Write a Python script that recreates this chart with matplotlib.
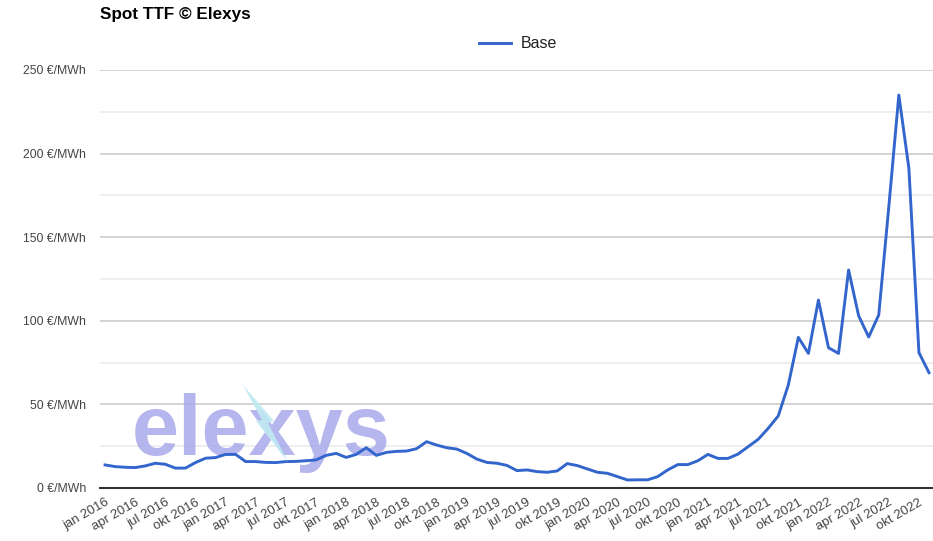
import matplotlib
matplotlib.use('Agg')
import matplotlib.pyplot as plt
from matplotlib.patches import Polygon
from matplotlib.transforms import IdentityTransform

plt.rcParams['font.family'] = ['Liberation Sans', 'DejaVu Sans']

# monthly spot TTF, jan 2016 .. nov 2022 (EUR/MWh)
base_2016 = [13.8, 12.8, 12.4, 12.2, 13.2, 14.8, 14.2, 11.9, 11.9, 15.2, 17.8, 18.2]
base_2017 = [20.1, 20.1, 15.8, 15.8, 15.3, 15.2, 15.8, 15.9, 16.3, 16.8, 19.5, 20.7]
base_2018 = [18.3, 20.1, 24.1, 19.5, 21.3, 21.9, 22.1, 23.5, 27.7, 25.7, 24.1, 23.3]
base_2019 = [20.7, 17.3, 15.3, 14.8, 13.5, 10.4, 10.8, 9.8, 9.4, 10.2, 14.6, 13.4]
base_2020 = [11.4, 9.4, 8.8, 6.8, 4.8, 4.9, 4.9, 6.8, 10.8, 14.0, 14.0, 16.3]
base_2021 = [20.1, 17.7, 17.7, 20.3, 24.7, 29.1, 35.7, 43.1, 61.6, 90.1, 80.5, 112.4]
base_2022 = [83.9, 80.5, 130.4, 103.0, 90.3, 103.5, 168.0, 235.0, 191.2, 81.0, 69.0]
base = base_2016 + base_2017 + base_2018 + base_2019 + base_2020 + base_2021 + base_2022

years = [2016, 2017, 2018, 2019, 2020, 2021, 2022]
tick_months = ['jan', 'apr', 'jul', 'okt']
tick_labels = ['{} {}'.format(m, y) for y in years for m in tick_months][:len(range(0, len(base), 3))]

y_ticks = [0, 50, 100, 150, 200, 250]
y_minor = [25, 75, 125, 175, 225]

W, H = 933, 541
fig = plt.figure(figsize=(W / 100, H / 100), dpi=100)
ax = fig.add_axes([100 / W, 53 / H, 833 / W, 418 / H])

x = list(range(len(base)))
ax.plot(x, base, color='#3366cc', lw=2.1, label='Base', zorder=3)

ax.set_xlim(-0.5, 82.4)
ax.set_ylim(0, 250)
for v in y_ticks[1:]:
    ax.axhline(v, color='#cccccc', lw=1.2, zorder=1)
for v in y_minor:
    ax.axhline(v, color='#ebebeb', lw=1.2, zorder=1)
ax.axhline(0, color='#333333', lw=1.5, zorder=4, clip_on=False)

ax.set_yticks(y_ticks)
ax.set_yticklabels(['{} €/MWh'.format(v) for v in y_ticks])
ax.set_xticks(list(range(0, len(base), 3)))
ax.set_xticklabels(tick_labels, rotation=30, ha='right', va='top',
                   rotation_mode='anchor')
ax.tick_params(axis='both', length=0, colors='#444444')
ax.tick_params(axis='y', pad=10, labelsize=8.8)
ax.tick_params(axis='x', pad=6, labelsize=9.5)
for s in ax.spines.values():
    s.set_visible(False)

# watermark logo
ax.text(0.038, 0.08, 'elexys', transform=ax.transAxes, fontsize=61,
        fontweight='bold', color='#a9a9ec', alpha=0.85, zorder=2,
        ha='left', va='baseline')
bolt = [(243, 385), (262, 420), (256, 421), (288, 462), (268, 423), (274, 421)]
bolt = [(px, H - py) for px, py in bolt]
fig.patches.append(Polygon(bolt, closed=True, transform=IdentityTransform(),
                           facecolor='#bfeaf2', edgecolor='none', alpha=0.9,
                           figure=fig))

fig.text(100 / W, 1 - 15 / H, 'Spot TTF © Elexys', fontsize=12.3,
         fontweight='bold', ha='left', va='center')
fig.legend(loc='center', bbox_to_anchor=(518 / W, 1 - 44 / H), frameon=False,
           fontsize=11.5, handlelength=2.0, handletextpad=0.6,
           labelcolor='#222222')

fig.savefig('out.png', dpi=100)
